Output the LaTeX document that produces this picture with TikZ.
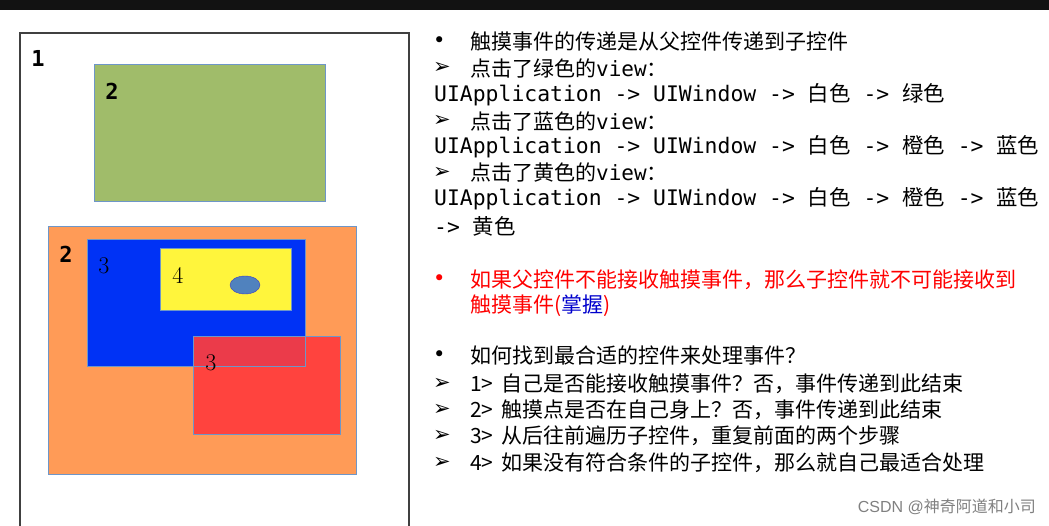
\documentclass[tikz,border=0pt]{standalone}
\usepackage{fontspec}
\usetikzlibrary{shapes.geometric}
\setmainfont{Liberation Sans}
\newfontfamily\cjk{Noto Sans CJK SC}
\newfontfamily\mono{DejaVu Sans Mono}
\newfontfamily\dv{DejaVu Sans}
\newfontfamily\lm{Latin Modern Roman}
\begin{document}
\begin{tikzpicture}[x=1pt,y=-1pt,
  box/.style={draw={rgb,255:red,110;green,150;blue,200},line width=1pt},
  lab/.style={anchor=center,font=\fontsize{22}{24}\selectfont\bfseries\mono},
  slab/.style={anchor=center,font=\fontsize{24}{26}\selectfont\lm},
  ln/.style={anchor=west,inner sep=0pt,font=\fontsize{21}{23}\selectfont\cjk},
  ml/.style={anchor=west,inner sep=0pt,font=\fontsize{21.4}{23}\selectfont}]
\useasboundingbox (0,0) rectangle (1049,526);
\fill[black!93] (0,0) rectangle (1049,10);
\draw[black!75,line width=1.5pt] (20,526) -- (20,33) -- (409,33) -- (409,526);
\fill[box,fill={rgb,255:red,160;green,188;blue,106}] (94,65) rectangle (325,202);
\fill[box,fill={rgb,255:red,255;green,155;blue,87}] (48,227) rectangle (356,474);
\fill[box,fill={rgb,255:red,0;green,50;blue,245}] (87,240) rectangle (305,366);
\fill[box,fill={rgb,255:red,255;green,245;blue,60}] (160,249) rectangle (291,311);
\fill[box,fill={rgb,255:red,255;green,60;blue,60},fill opacity=0.92] (193,337) rectangle (340,434);
\draw[box] (48,227) rectangle (356,474);
\draw[box] (94,65) rectangle (325,202);
\draw[box] (87,240) rectangle (305,366);
\draw[box] (160,249) rectangle (291,311);
\draw[box] (193,337) rectangle (340,434);
\node[ellipse,draw=blue!50!gray,fill={rgb,255:red,80;green,130;blue,190},minimum width=30pt,minimum height=18pt,inner sep=0pt] (dot) at (245,285) {};
\node[lab] (l1) at (38,58) {1};
\node[lab] (l2) at (112,91) {2};
\node[lab] (l3) at (66,254) {2};
\node[slab] (l4) at (104,266) {3};
\node[slab] (l5) at (178,275) {4};
\node[slab] (l6) at (211,363) {3};
\node[ln] (b1) at (433,42) {\dv •};
\node[ln] (t1) at (470,42) {触摸事件的传递是从父控件传递到子控件};
\node[ln] (a1) at (433,68) {\dv ➢};
\node[ln] (t2) at (470,68) {点击了绿色的{\mono view}：};
\node[ml] (m1) at (434,95) {\mono UIApplication -> UIWindow -> {\cjk 白色} -> {\cjk 绿色}};
\node[ln] (a2) at (433,121) {\dv ➢};
\node[ln] (t3) at (470,121) {点击了蓝色的{\mono view}：};
\node[ml] (m2) at (434,147) {\mono UIApplication -> UIWindow -> {\cjk 白色} -> {\cjk 橙色} -> {\cjk 蓝色}};
\node[ln] (a3) at (433,173) {\dv ➢};
\node[ln] (t4) at (470,173) {点击了黄色的{\mono view}：};
\node[ml] (m3) at (434,199) {\mono UIApplication -> UIWindow -> {\cjk 白色} -> {\cjk 橙色} -> {\cjk 蓝色}};
\node[ml] (m4) at (434,226) {\mono -> {\cjk 黄色}};
\node[ln,red] (b2) at (433,280) {\dv •};
\node[ln,red] (t5) at (470,280) {如果父控件不能接收触摸事件，那么子控件就不可能接收到};
\node[ln,red] (t6) at (470,306) {触摸事件({\color{blue!80!black}掌握})};
\node[ln] (b3) at (433,356) {\dv •};
\node[ln] (t7) at (470,356) {如何找到最合适的控件来处理事件？};
\node[ln] (a4) at (433,384) {\dv ➢};
\node[ln] (t8) at (470,384) {1>\, 自己是否能接收触摸事件？否，事件传递到此结束};
\node[ln] (a5) at (433,410) {\dv ➢};
\node[ln] (t9) at (470,410) {2>\, 触摸点是否在自己身上？否，事件传递到此结束};
\node[ln] (a6) at (433,436) {\dv ➢};
\node[ln] (t10) at (470,436) {3>\, 从后往前遍历子控件，重复前面的两个步骤};
\node[ln] (a7) at (433,463) {\dv ➢};
\node[ln] (t11) at (470,463) {4>\, 如果没有符合条件的子控件，那么就自己最适合处理};
\node[anchor=east,inner sep=0pt,gray,font=\fontsize{16}{18}\selectfont\cjk] (wm) at (1036,507) {{\rmfamily CSDN @}神奇阿道和小司};
\end{tikzpicture}
\end{document}
